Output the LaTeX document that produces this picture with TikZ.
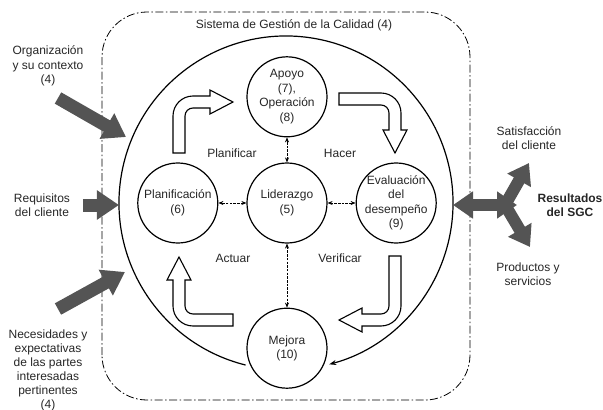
\documentclass[tikz,border=0pt]{standalone}
\usepackage{fontspec}
\setmainfont{Liberation Sans}
\usetikzlibrary{positioning,arrows.meta}

\begin{document}
\begin{tikzpicture}[x=1pt, y=1pt,
	font=\fontsize{12}{14.5}\selectfont, text=black!85,
	main/.style = {draw, circle, line width=1.2pt, minimum size=80pt, inner sep=-6pt, align=center},
	lbl/.style = {align=center},
	link/.style = {dash pattern=on 2.5pt off 1.2pt, line width=0.7pt, {Stealth[length=5pt,width=4pt]}-{Stealth[length=5pt,width=4pt]}},
	hollow/.style = {draw, fill=white, line width=1.1pt},
	input/.style = {line width=13pt, draw=black!67, -{Triangle[length=22pt,width=28pt]}},
	output/.style = {line width=12pt, draw=black!67},
	pics/bent/.style 2 args = {code = {
		\draw[hollow] (-6,0) -- (-6,#1-14) arc[start angle=180, end angle=90, radius=20]
			-- (#2-23,#1+6) -- (#2-23,#1+12) -- (#2,#1) -- (#2-23,#1-12) -- (#2-23,#1-6)
			-- (14,#1-6) arc[start angle=90, end angle=180, radius=8] -- (6,0) -- cycle;
	}}]
	\useasboundingbox (-287,-207) rectangle (316,203);
	% frame of the system
	\draw[line width=0.8pt, rounded corners=45pt, dash pattern=on 8pt off 2.5pt on 1.5pt off 2.5pt] (-185,-197) rectangle (183,191);
	\node (sgc) at (7,178) {Sistema de Gestión de la Calidad (4)};
	% cycle
	\draw[line width=1.2pt, -{Stealth[length=7pt,width=5pt]}] (-1,0) ++(256:167) arc[start angle=256, end angle=-75, radius=167];
	\node[main] (lid) at (0,0) {Liderazgo\\(5)};
	\node[main] (apoyo) [above=25pt of lid] {Apoyo\\(7),\\Operación\\(8)};
	\node[main] (plan) [left=28pt of lid] {Planificación\\(6)};
	\node[main] (eval) [right=28pt of lid] {Evaluación\\del\\desempeño\\(9)};
	\node[main] (mejora) [below=64pt of lid] {Mejora\\(10)};
	\draw[link] (lid) -- (apoyo);
	\draw[link] (lid) -- (plan);
	\draw[link] (lid) -- (eval);
	\draw[link] (lid) -- (mejora);
	\pic at (-108,50) {bent={51}{54}};
	\pic[rotate=-90] at (52,104) {bent={56}{54}};
	\pic[rotate=180] at (108,-53) {bent={64}{56}};
	\pic[rotate=90] at (-54,-117) {bent={54}{63}};
	\node (planificar) at (-55,50) {Planificar};
	\node (hacer) at (53,50) {Hacer};
	\node (actuar) at (-54,-55) {Actuar};
	\node (verificar) at (53,-55) {Verificar};
	% inputs
	\node[lbl] (org) at (-239,137) {Organización\\y su contexto\\(4)};
	\node[lbl] (req) at (-245,-2) {Requisitos\\del cliente};
	\node[lbl, font=\fontsize{12}{14}\selectfont] (nec) at (-239,-167) {Necesidades y\\expectativas\\de las partes\\interesadas\\pertinentes\\(4)};
	\coordinate (o1) at (-229,105); \coordinate (t1) at (-161,66);
	\coordinate (o2) at (-204,-2); \coordinate (t2) at (-168,-2);
	\coordinate (o3) at (-229,-106); \coordinate (t3) at (-162,-69);
	\draw[input] (o1) -- (t1);
	\draw[input] (o2) -- (t2);
	\draw[input] (o3) -- (t3);
	% outputs
	\node[lbl] (sat) at (242,65) {Satisfacción\\del cliente};
	\node[lbl] (prod) at (241,-71) {Productos y\\servicios};
	\node[lbl, font=\bfseries\fontsize{12}{14.5}\selectfont] (res) at (283,-2) {Resultados\\del SGC};
	\coordinate (fl) at (166,-2); \coordinate (fr) at (230,-2); \coordinate (fj) at (218,-2);
	\coordinate (fu) at (242,40); \coordinate (fd) at (243,-44);
	\draw[output, {Triangle[length=20pt,width=26pt]}-{Triangle[length=20pt,width=26pt]}] (fr) -- (fl);
	\draw[output, -{Triangle[length=20pt,width=26pt]}] (fj) -- (fu);
	\draw[output, -{Triangle[length=20pt,width=26pt]}] (fj) -- (fd);
\end{tikzpicture}
\end{document}
